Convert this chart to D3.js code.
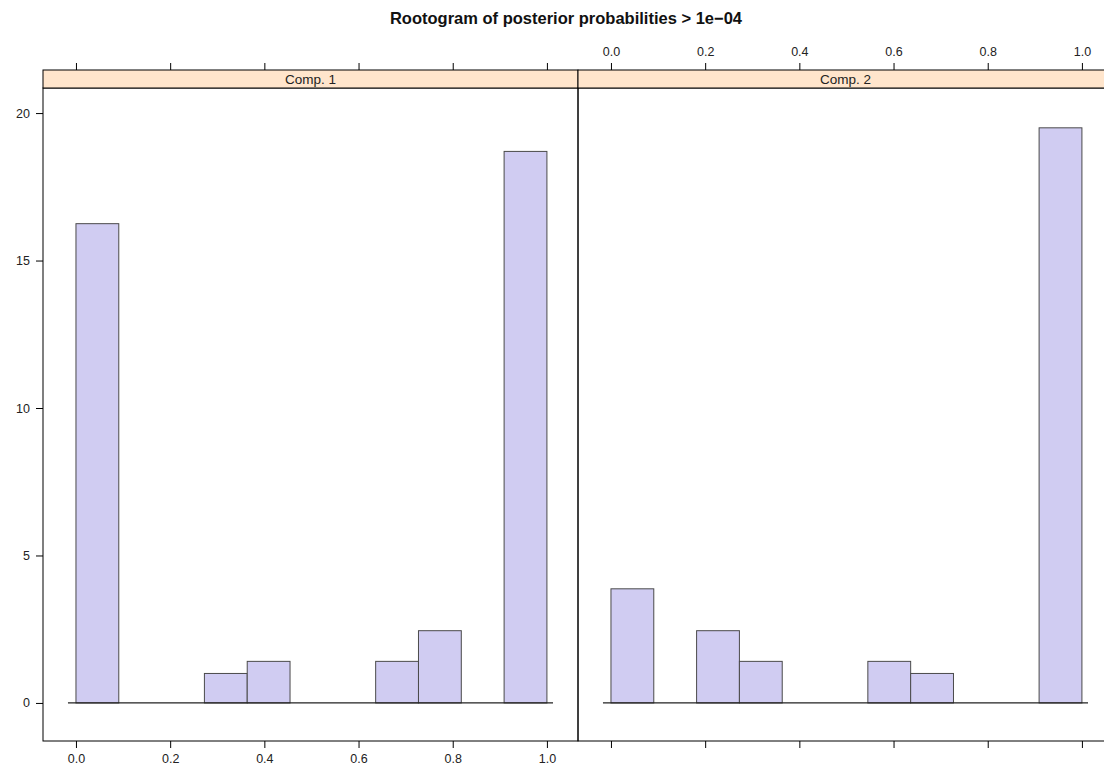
<!DOCTYPE html>
<html>
<head>
<meta charset="utf-8">
<script src="https://d3js.org/d3.v7.min.js"></script>
<style>
  body { margin: 0; background: #fff; }
  svg { font-family: "Liberation Sans", Arial, sans-serif; }
  .bar { fill: #d0ccf2; stroke: #4a4a4a; stroke-width: 1; }
  .zero { stroke: #222; stroke-width: 1.2; }
  .border { fill: none; stroke: #000; stroke-width: 1; }
  .strip { fill: #ffe5cc; stroke: #000; stroke-width: 1; }
  .tick line, .domain { stroke: #000; }
  .tick text { font-size: 12.5px; fill: #222; }
</style>
</head>
<body>
<div id="chart"></div>
<script>
// bin edges of the histogram (11 equal bins on [0,1])
var binEdges = [0, 1/11, 2/11, 3/11, 4/11, 5/11, 6/11, 7/11, 8/11, 9/11, 10/11, 1];
var panels = ["Comp. 1", "Comp. 2"];
// sqrt(count) heights
var comp1 = [16.25, 0, 0, 1, 1.41, 0, 0, 1.41, 2.45, 0, 18.7];
var comp2 = [3.87, 0, 2.45, 1.41, 0, 0, 1.41, 1, 0, 0, 19.5];
var xTicks = [0, 0.2, 0.4, 0.6, 0.8, 1.0];
var yTicks = [0, 5, 10, 15, 20];
var title = "Rootogram of posterior probabilities > 1e\u221204";

(function() {
var W = 1104, H = 769;
var panelW = 535, plotLeft = 43, plotTop = 88, plotBottom = 741, stripH = 18;

var svg = d3.select("#chart").append("svg")
    .attr("width", W)
    .attr("height", H);

svg.append("text")
    .attr("x", 566).attr("y", 24)
    .attr("text-anchor", "middle")
    .attr("font-size", "16.5px")
    .attr("font-weight", "bold")
    .attr("fill", "#111")
    .text(title);

var y = d3.scaleLinear()
    .domain([-1.29, 20.85])
    .range([plotBottom, plotTop]);

var series = [comp1, comp2];

panels.forEach(function(name, p) {
    var x0 = plotLeft + p * panelW;
    var x = d3.scaleLinear()
        .domain([-0.07, 1.066])
        .range([x0, x0 + panelW]);

    var g = svg.append("g");
    var bins = series[p].map(function(v, i) {
        return {x0: binEdges[i], x1: binEdges[i + 1], v: v};
    });

    g.selectAll(".bar")
        .data(bins.filter(function(d) { return d.v > 0; }))
        .enter().append("rect")
        .attr("class", "bar")
        .attr("x", function(d) { return x(d.x0); })
        .attr("y", function(d) { return y(d.v); })
        .attr("width", function(d) { return x(d.x1) - x(d.x0); })
        .attr("height", function(d) { return y(0) - y(d.v); });

    g.append("line")
        .attr("class", "zero")
        .attr("x1", x(-0.017)).attr("x2", x(1.013))
        .attr("y1", y(0)).attr("y2", y(0));

    // panel border
    g.append("rect")
        .attr("class", "border")
        .attr("x", x0).attr("y", plotTop)
        .attr("width", panelW).attr("height", plotBottom - plotTop);

    // strip
    g.append("rect")
        .attr("class", "strip")
        .attr("x", x0).attr("y", plotTop - stripH)
        .attr("width", panelW).attr("height", stripH);
    g.append("text")
        .attr("x", x0 + panelW / 2).attr("y", plotTop - 4)
        .attr("text-anchor", "middle")
        .attr("font-size", "13.5px")
        .attr("fill", "#222")
        .text(name);

    // bottom axis (labels only on first panel)
    var bAxis = d3.axisBottom(x).tickValues(xTicks).tickSize(7).tickPadding(6)
        .tickFormat(p === 0 ? d3.format(".1f") : function() { return ""; });
    svg.append("g")
        .attr("transform", "translate(0," + plotBottom + ")")
        .call(bAxis)
        .call(function(s) { s.select(".domain").remove(); });

    // top axis (labels only on second panel)
    var tAxis = d3.axisTop(x).tickValues(xTicks).tickSize(7).tickPadding(7)
        .tickFormat(p === 1 ? d3.format(".1f") : function() { return ""; });
    svg.append("g")
        .attr("transform", "translate(0," + (plotTop - stripH) + ")")
        .call(tAxis)
        .call(function(s) { s.select(".domain").remove(); });
});

svg.append("g")
    .attr("transform", "translate(" + plotLeft + ",0)")
    .call(d3.axisLeft(y).tickValues(yTicks).tickSize(7).tickPadding(6))
    .call(function(s) { s.select(".domain").remove(); });
})();
</script>
</body>
</html>
